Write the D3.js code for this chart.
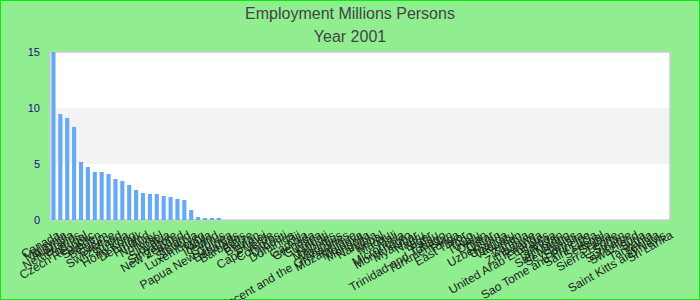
<!DOCTYPE html>
<html>
<head>
<meta charset="utf-8">
<script src="https://cdn.jsdelivr.net/npm/d3@7"></script>
<style>
    html, body { margin: 0; padding: 0; background: #90ee90; }
    svg { display: block; }
</style>
</head>
<body>
<div id="chart"></div>
<script>
const titleLines = ["Employment Millions Persons", "Year 2001"];

const countries = [
    "Canada", "Malaysia", "Australia", "Netherlands", "Portugal", "Czech Republic",
    "Sweden", "Belgium", "Greece", "Switzerland", "Austria", "Hong Kong",
    "Denmark", "Finland", "Norway", "Israel", "Slovakia", "Singapore",
    "New Zealand", "Ireland", "Slovenia", "Luxembourg", "Malta", "Iceland",
    "Cyprus", "Papua New Guinea", "Bahamas", "Barbados", "Belize", "Bhutan",
    "Brunei", "Cape Verde", "Comoros", "Djibouti", "Dominica", "Fiji",
    "Gambia", "Grenada", "Guyana", "Kiribati", "Maldives", "Mauritius",
    "Saint Vincent and the Grenadines", "Mozambique", "Moldova", "Mongolia", "Namibia", "Nepal",
    "Macau", "Mali", "Micronesia", "Montenegro", "Myanmar", "Nauru",
    "Niger", "Palau", "Trinidad and Tobago", "Turkmenistan", "Tonga", "East Timor",
    "Togo", "Tuvalu", "Oman", "Qatar", "Uzbekistan", "Uganda",
    "Vanuatu", "Yemen", "Zambia", "Zimbabwe", "Rwanda", "United Arab Emirates",
    "Samoa", "Tajikistan", "San Marino", "Seychelles", "Somalia", "Sao Tome and Principe",
    "Saint Lucia", "Senegal", "Serbia", "Sierra Leone", "Sudan", "Suriname",
    "Swaziland", "Syria", "Tanzania", "Tunisia", "Saint Kitts and Nevis", "Sri Lanka"
];

const employment = [
    15.0, 9.46, 9.11, 8.30, 5.18, 4.73,
    4.29, 4.29, 4.11, 3.66, 3.48, 3.13,
    2.68, 2.41, 2.32, 2.32, 2.14, 2.05,
    1.88, 1.79, 0.89, 0.27, 0.18, 0.18,
    0.18, 0, 0, 0, 0, 0,
    0, 0, 0, 0, 0, 0,
    0, 0, 0, 0, 0, 0,
    0, 0, 0, 0, 0, 0,
    0, 0, 0, 0, 0, 0,
    0, 0, 0, 0, 0, 0,
    0, 0, 0, 0, 0, 0,
    0, 0, 0, 0, 0, 0,
    0, 0, 0, 0, 0, 0,
    0, 0, 0, 0, 0, 0,
    0, 0, 0, 0, 0, 0
];

const yTicks = [0, 5, 10, 15];

const data = countries.map((c, i) => ({ country: c, value: employment[i] }));

const width = 700;
const height = 300;
const margin = { top: 52, right: 30, bottom: 80, left: 50 };

const svg = d3.select("#chart")
    .append("svg")
    .attr("width", width)
    .attr("height", height);

// outer frame
svg.append("rect")
    .attr("x", 0.5)
    .attr("y", 0.5)
    .attr("width", width - 1)
    .attr("height", height - 1)
    .attr("fill", "#90ee90")
    .attr("stroke", "#00ee00")
    .attr("stroke-width", 1);

const x = d3.scaleBand()
    .domain(countries)
    .range([margin.left, width - margin.right])
    .paddingInner(0.4)
    .paddingOuter(0.2);

const y = d3.scaleLinear()
    .domain([0, d3.max(employment)])
    .range([height - margin.bottom, margin.top]);

// plot background with alternating bands
svg.append("rect")
    .attr("x", margin.left)
    .attr("y", margin.top)
    .attr("width", width - margin.left - margin.right)
    .attr("height", height - margin.top - margin.bottom)
    .attr("fill", "#ffffff");

svg.selectAll(".band")
    .data(d3.pairs(yTicks).filter((d, i) => i % 2 === 1))
    .enter()
    .append("rect")
    .attr("class", "band")
    .attr("x", margin.left)
    .attr("width", width - margin.left - margin.right)
    .attr("y", d => y(d[1]))
    .attr("height", d => y(d[0]) - y(d[1]))
    .attr("fill", "#f3f3f3");

svg.append("rect")
    .attr("x", margin.left)
    .attr("y", margin.top)
    .attr("width", width - margin.left - margin.right)
    .attr("height", height - margin.top - margin.bottom)
    .attr("fill", "none")
    .attr("stroke", "#cccccc")
    .attr("stroke-width", 1.5);

svg.selectAll(".bar")
    .data(data)
    .enter()
    .append("rect")
    .attr("class", "bar")
    .attr("x", d => x(d.country))
    .attr("width", x.bandwidth())
    .attr("y", d => y(d.value))
    .attr("height", d => y(0) - y(d.value))
    .attr("fill", "#64aaf5");

// y axis
const yAxis = svg.append("g")
    .attr("transform", `translate(${margin.left},0)`)
    .call(d3.axisLeft(y).tickValues(yTicks).tickSize(0).tickPadding(10));
yAxis.select(".domain").remove();
yAxis.selectAll("text")
    .style("font-family", "Arial, 'Liberation Sans', sans-serif")
    .style("font-size", "11px")
    .attr("fill", "#10108c");

// x axis
const xAxis = svg.append("g")
    .attr("transform", `translate(0,${height - margin.bottom})`)
    .call(d3.axisBottom(x).tickSize(0).tickPadding(8));
xAxis.select(".domain").remove();
xAxis.selectAll("text")
    .style("font-family", "Arial, 'Liberation Sans', sans-serif")
    .style("font-size", "12px")
    .attr("fill", "#222")
    .attr("text-anchor", "end")
    .attr("transform", "rotate(-30)")
    .attr("dx", "-0.2em")
    .attr("dy", "0.9em");

// titles
svg.selectAll(".title")
    .data(titleLines)
    .enter()
    .append("text")
    .attr("class", "title")
    .attr("x", width / 2)
    .attr("y", (d, i) => 19 + i * 23)
    .attr("text-anchor", "middle")
    .style("font-family", "Arial, 'Liberation Sans', sans-serif")
    .style("font-size", "16px")
    .attr("fill", "#444")
    .text(d => d);
</script>
</body>
</html>
